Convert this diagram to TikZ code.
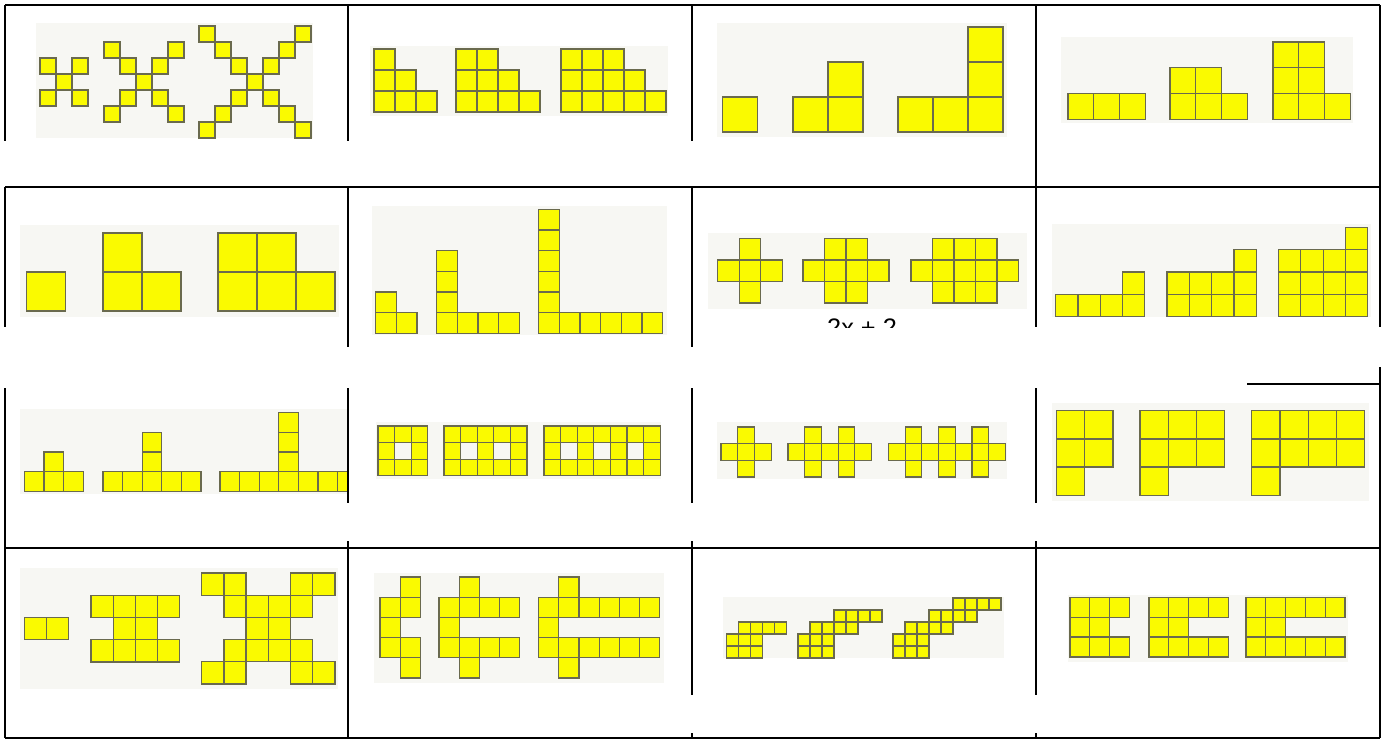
\documentclass[tikz,border=0pt]{standalone}
\usepackage{fontspec}
\setsansfont{Liberation Sans}
\usepackage{tikz}
\usetikzlibrary{positioning}
\definecolor{tileyellow}{HTML}{FAFA00}
\definecolor{tileedge}{HTML}{6A6A4E}
\definecolor{panelgrey}{HTML}{F7F7F3}

% one row run of squares: x0, y0, size, {row/first col/last col, ...}
\newcommand{\runs}[4]{%
  \foreach \r/\a/\b in {#4}
    \foreach \c in {\a,...,\b}
      \draw[tile] ({#1+\c*#3},{#2+\r*#3}) rectangle +(#3,#3);}

\begin{document}
\begin{tikzpicture}[x=0.01cm, y=-0.01cm,
      rule/.style={line width=0.65pt, black},
      panel/.style={fill=panelgrey, draw=none},
      tile/.style={fill=tileyellow, draw=tileedge, line width=0.35pt},
      lbl/.style={font=\sffamily\fontsize{7.2}{8}\selectfont, anchor=base, inner sep=0pt}]

    \fill[white] (0,0) rectangle (1389,740);
    \useasboundingbox (0,0) rectangle (1389,740);

    % ── Panels ──
    \foreach \xa/\ya/\xb/\yb in {36/23/313/138, 370/46/668/116, 717/23/1007/137, 1061/37/1353/123,
        20/225/339/317, 372/206/667/335, 708/233/1027/309, 1052/224/1371/317,
        20/409/348/494, 376/422/661/479, 717/422/1007/479, 1052/403/1369/501,
        20/568/338/689, 374/573/664/683, 723/597/1004/658, 1068/595/1348/662}
      \fill[panel] (\xa,\ya) rectangle (\xb,\yb);

    % ── Row 1 ──
    \runs{40}{58}{16}{0/0/0, 0/2/2, 1/1/1, 2/0/0, 2/2/2}
    \runs{104}{42}{16}{0/0/0, 0/4/4, 1/1/1, 1/3/3, 2/2/2, 3/1/1, 3/3/3, 4/0/0, 4/4/4}
    \runs{199}{26}{16}{0/0/0, 0/6/6, 1/1/1, 1/5/5, 2/2/2, 2/4/4, 3/3/3,
                       4/2/2, 4/4/4, 5/1/1, 5/5/5, 6/0/0, 6/6/6}

    \runs{374}{49}{21}{0/0/0, 1/0/1, 2/0/2}
    \runs{456}{49}{21}{0/0/1, 1/0/2, 2/0/3}
    \runs{561}{49}{21}{0/0/2, 1/0/3, 2/0/4}

    \runs{722.5}{97}{35}{0/0/0}
    \runs{793}{62}{35}{0/1/1, 1/0/1}
    \runs{898}{27}{35}{0/2/2, 1/2/2, 2/0/2}

    \runs{1068}{93.5}{25.7}{0/0/2}
    \runs{1170}{67.8}{25.7}{0/0/1, 1/0/2}
    \runs{1273}{42.1}{25.7}{0/0/1, 1/0/1, 2/0/2}

    % ── Row 2 ──
    \runs{26.5}{272}{39}{0/0/0}
    \runs{103}{233}{39}{0/0/0, 1/0/1}
    \runs{218}{233}{39}{0/0/1, 1/0/2}

    \runs{375.5}{292}{20.7}{0/0/0, 1/0/1}
    \runs{436.6}{250.6}{20.7}{0/0/0, 1/0/0, 2/0/0, 3/0/3}
    \runs{538.6}{209.2}{20.7}{0/0/0, 1/0/0, 2/0/0, 3/0/0, 4/0/0, 5/0/5}

    \runs{717.6}{238.5}{21.5}{0/1/1, 1/0/2, 2/1/1}
    \runs{803}{238.5}{21.5}{0/1/2, 1/0/3, 2/1/2}
    \runs{911}{238.5}{21.5}{0/1/3, 1/0/4, 2/1/3}

    \runs{1055.6}{272}{22.3}{0/3/3, 1/0/3}
    \runs{1167}{249.7}{22.3}{0/3/3, 1/0/3, 2/0/3}
    \runs{1278.5}{227.4}{22.3}{0/3/3, 1/0/3, 2/0/3, 3/0/3}

    \begin{scope}
      \clip (790,300) rectangle (940,327.5);
      \node[lbl] (rule23) at (862,337) {2x + 2};
    \end{scope}

    % ── Row 3 ──
    \runs{24.4}{452}{19.6}{0/1/1, 1/0/2}
    \runs{103}{432.4}{19.6}{0/2/2, 1/2/2, 2/0/4}
    \begin{scope}
      \clip (200,400) rectangle (347,500);
      \runs{220}{412.8}{19.6}{0/3/3, 1/3/3, 2/3/3, 3/0/6}
    \end{scope}

    \runs{378}{426}{16.6}{0/0/2, 1/0/0, 1/2/2, 2/0/2}
    \runs{444}{426}{16.6}{0/0/4, 1/0/0, 1/2/2, 1/4/4, 2/0/4}
    \runs{544}{426}{16.6}{0/0/6, 1/0/0, 1/2/2, 1/4/4, 1/6/6, 2/0/6}

    \runs{721}{427}{16.7}{0/1/1, 1/0/2, 2/1/1}
    \runs{788}{427}{16.7}{0/1/1, 0/3/3, 1/0/4, 2/1/1, 2/3/3}
    \runs{888.4}{427}{16.7}{0/1/1, 0/3/3, 0/5/5, 1/0/6, 2/1/1, 2/3/3, 2/5/5}

    \runs{1056.5}{410.7}{28.2}{0/0/1, 1/0/1, 2/0/0}
    \runs{1140}{410.7}{28.2}{0/0/2, 1/0/2, 2/0/0}
    \runs{1251.7}{410.7}{28.2}{0/0/3, 1/0/3, 2/0/0}

    % ── Row 4 ──
    \runs{24.4}{617.5}{22.2}{0/0/1}
    \runs{91}{595.3}{22.2}{0/0/3, 1/1/2, 2/0/3}
    \runs{201.7}{573}{22.2}{0/0/1, 0/4/5, 1/1/4, 2/2/3, 3/1/4, 4/0/1, 4/4/5}

    \runs{380}{577}{20.2}{0/1/1, 1/0/1, 2/0/0, 3/0/1, 4/1/1}
    \runs{439}{577}{20.2}{0/1/1, 1/0/3, 2/0/0, 3/0/3, 4/1/1}
    \runs{538.6}{577}{20.2}{0/1/1, 1/0/5, 2/0/0, 3/0/5, 4/1/1}

    \runs{726.6}{598}{12}{2/1/4, 3/0/2, 4/0/2}
    \runs{798}{598}{12}{1/3/6, 2/1/4, 3/0/2, 4/0/2}
    \runs{893}{598}{12}{0/5/8, 1/3/6, 2/1/4, 3/0/2, 4/0/2}

    \runs{1070}{597.5}{19.8}{0/0/2, 1/0/1, 2/0/2}
    \runs{1149}{597.5}{19.8}{0/0/3, 1/0/1, 2/0/3}
    \runs{1246}{597.5}{19.8}{0/0/4, 1/0/1, 2/0/4}

    % ── Table rules ──
    \foreach \yy in {5, 187, 548, 738}
      \draw[rule] (5,\yy) -- (1380,\yy);
    \draw[rule] (1247,384) -- (1380,384);
    \foreach \xx/\ya/\yb in {5/5/141, 5/187/327, 5/388/738,
        348/5/141, 348/187/347, 348/388/503, 348/541/738,
        692/5/141, 692/187/347, 692/388/503, 692/541/695, 692/733/738,
        1036/5/327, 1036/388/503, 1036/541/695, 1036/733/738,
        1380/5/327, 1380/367/738}
      \draw[rule] (\xx,\ya) -- (\xx,\yb);

  \end{tikzpicture}
\end{document}
